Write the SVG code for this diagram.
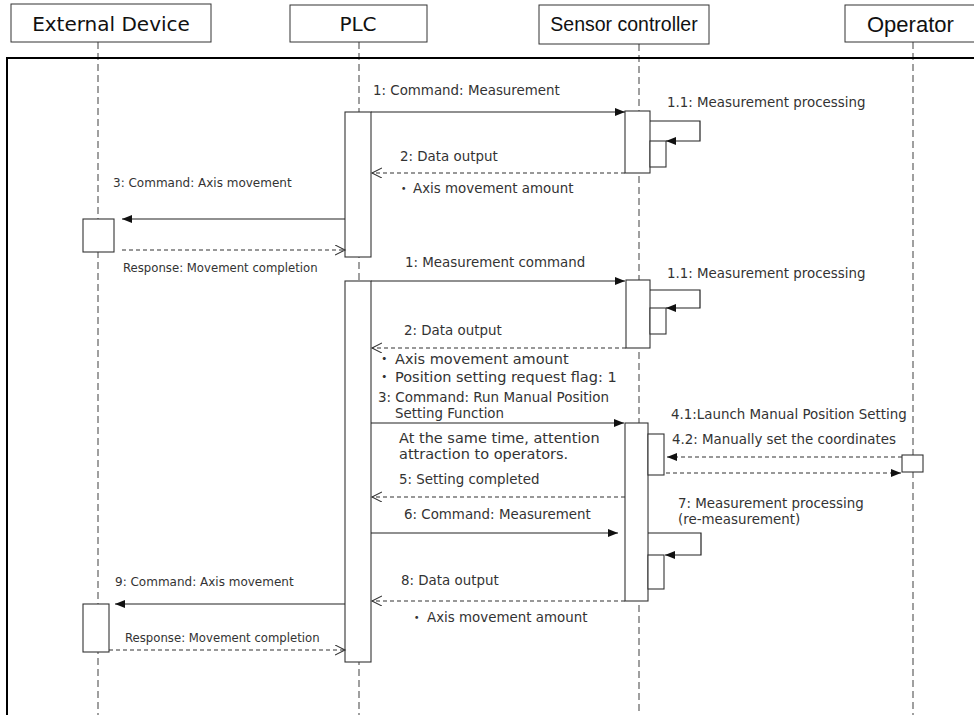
<svg xmlns="http://www.w3.org/2000/svg" width="974" height="715" viewBox="0 0 974 715">
<defs>
<marker id="fa" markerUnits="userSpaceOnUse" markerWidth="11" markerHeight="9" refX="10" refY="4" orient="auto"><path d="M0,0 L10,4 L0,8 z" fill="#111"/></marker>
<marker id="oa" markerUnits="userSpaceOnUse" markerWidth="12" markerHeight="12" refX="10" refY="5" orient="auto"><path d="M0,0 L10,5 L0,10" fill="none" stroke="#333" stroke-width="1.1"/></marker>
<style>
.hd{fill:#fff;stroke:#333;stroke-width:1}
.life{stroke:#777;stroke-width:1.4;stroke-dasharray:7,4;fill:none}
.act{fill:#fff;stroke:#333;stroke-width:1.1}
.msg{stroke:#222;stroke-width:1.2;fill:none}
.ret{stroke:#333;stroke-width:1.1;stroke-dasharray:4,3;fill:none}
.t{font-family:"DejaVu Sans","Noto Sans CJK JP",sans-serif;fill:#333;font-size:13.4px}
.s{font-size:12px}
.r{font-size:11.7px}
.b{font-size:14.5px}
.h1{font-family:"DejaVu Sans",sans-serif;font-size:20px;fill:#111}
.h2{font-family:"Liberation Sans",Arial,sans-serif;fill:#111}
</style>
</defs>
<rect x="0" y="0" width="974" height="715" fill="#fff"/>
<g id="lifelines">
<line class="life" x1="98" y1="42" x2="98" y2="715"/>
<line class="life" x1="359" y1="42" x2="359" y2="715"/>
<line class="life" x1="639" y1="44" x2="639" y2="715"/>
<line class="life" x1="913" y1="42" x2="913" y2="715"/>
</g>
<rect id="frame" x="7" y="58" width="1000" height="700" fill="none" stroke="#000" stroke-width="2"/>
<g id="external-device">
<rect class="hd" x="11" y="4" width="200" height="38"/>
<text class="h1" x="111" y="31" text-anchor="middle">External Device</text>
<rect class="act" x="83" y="219" width="31" height="33"/>
<rect class="act" x="83" y="604" width="26" height="48"/>
</g>
<g id="plc">
<rect class="hd" x="290" y="5" width="137" height="37"/>
<text class="h1" x="358" y="31" text-anchor="middle">PLC</text>
<rect class="act" x="345" y="112" width="26" height="145"/>
<rect class="act" x="345" y="281" width="26" height="381"/>
</g>
<g id="sensor-controller">
<rect class="hd" x="539" y="5" width="170" height="39"/>
<text class="h2" x="624" y="31" text-anchor="middle" font-size="19.5">Sensor controller</text>
<rect class="act" x="625" y="111" width="25" height="62"/>
<rect class="act" x="650" y="141" width="16" height="26"/>
<rect class="act" x="626" y="280" width="24" height="68"/>
<rect class="act" x="650" y="308" width="16" height="26"/>
<rect class="act" x="625" y="423" width="23" height="178"/>
<rect class="act" x="648" y="434" width="16" height="41"/>
<rect class="act" x="648" y="555" width="16" height="34"/>
</g>
<g id="operator">
<rect class="hd" x="845" y="5" width="140" height="37"/>
<text class="h2" x="867" y="32" font-size="22">Operator</text>
<rect class="act" x="902" y="455" width="21" height="17"/>
</g>
<g id="connectors">
<line class="msg" x1="371" y1="112" x2="625" y2="112" marker-end="url(#fa)"/>
<path class="msg" d="M650,121 H700 V141 H666" marker-end="url(#fa)"/>
<line class="ret" x1="625" y1="173" x2="372" y2="173" marker-end="url(#oa)"/>
<line class="msg" x1="345" y1="219" x2="122" y2="219" marker-end="url(#fa)"/>
<line class="ret" x1="122" y1="250" x2="345" y2="250" marker-end="url(#oa)"/>
<line class="msg" x1="371" y1="281" x2="625" y2="281" marker-end="url(#fa)"/>
<path class="msg" d="M650,290 H700 V308 H666" marker-end="url(#fa)"/>
<line class="ret" x1="626" y1="348" x2="372" y2="348" marker-end="url(#oa)"/>
<line class="msg" x1="371" y1="423" x2="624" y2="423" marker-end="url(#fa)"/>
<line class="ret" x1="902" y1="457" x2="667" y2="457" marker-end="url(#fa)"/>
<line class="ret" x1="666" y1="473" x2="901" y2="473" marker-end="url(#fa)"/>
<line class="ret" x1="625" y1="497" x2="372" y2="497" marker-end="url(#oa)"/>
<line class="msg" x1="371" y1="533" x2="618" y2="533" marker-end="url(#fa)"/>
<path class="msg" d="M648,533 H701 V555 H665" marker-end="url(#fa)"/>
<line class="ret" x1="625" y1="601" x2="372" y2="601" marker-end="url(#oa)"/>
<line class="msg" x1="345" y1="604" x2="115" y2="604" marker-end="url(#fa)"/>
<line class="ret" x1="109" y1="650" x2="345" y2="650" marker-end="url(#oa)"/>
</g>
<g id="labels">
<text class="t" x="373" y="95">1: Command: Measurement</text>
<text class="t" x="667" y="107">1.1: Measurement processing</text>
<text class="t" x="400" y="161">2: Data output</text>
<text class="t" x="397" y="193">・<tspan x="413">Axis movement amount</tspan></text>
<text class="t s" x="113" y="187">3: Command: Axis movement</text>
<text class="t r" x="123" y="272">Response: Movement completion</text>
<text class="t" x="405" y="267">1: Measurement command</text>
<text class="t" x="667" y="278">1.1: Measurement processing</text>
<text class="t" x="404" y="335">2: Data output</text>
<text class="t b" x="377" y="364">・<tspan x="395">Axis movement amount</tspan></text>
<text class="t b" x="377" y="382">・<tspan x="395">Position setting request flag: 1</tspan></text>
<text class="t b" x="378" y="402" textLength="231" lengthAdjust="spacingAndGlyphs">3: Command: Run Manual Position</text>
<text class="t b" x="395" y="418" textLength="109" lengthAdjust="spacingAndGlyphs">Setting Function</text>
<text class="t" x="671" y="419">4.1:Launch Manual Position Setting</text>
<text class="t" x="672" y="444">4.2: Manually set the coordinates</text>
<text class="t b" x="399" y="443">At the same time, attention</text>
<text class="t b" x="399" y="459">attraction to operators.</text>
<text class="t" x="399" y="484">5: Setting completed</text>
<text class="t" x="404" y="519">6: Command: Measurement</text>
<text class="t" x="678" y="508">7: Measurement processing</text>
<text class="t" x="678" y="524">(re-measurement)</text>
<text class="t" x="401" y="585">8: Data output</text>
<text class="t" x="410" y="622">・<tspan x="427">Axis movement amount</tspan></text>
<text class="t s" x="115" y="586">9: Command: Axis movement</text>
<text class="t r" x="125" y="642">Response: Movement completion</text>
</g>
</svg>
